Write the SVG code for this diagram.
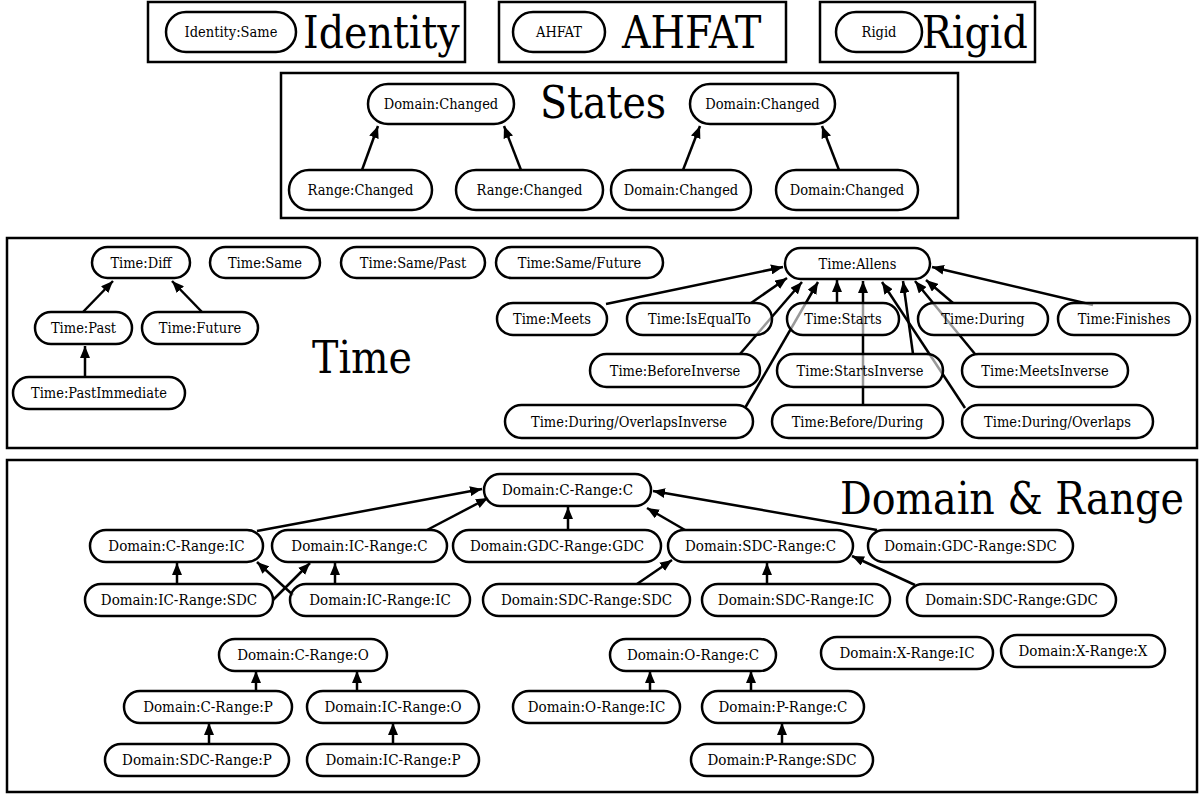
<svg xmlns="http://www.w3.org/2000/svg" width="1204" height="797" viewBox="0 0 1204 797">
<style>
.frame{fill:none;stroke:#000;stroke-width:2.5}
.node rect{fill:#fff;fill-opacity:.6;stroke:#000;stroke-width:2.5}
text{font-family:'DejaVu Serif Condensed','DejaVu Serif',serif;font-stretch:condensed;fill:#000}
.node text{font-size:14.5px;text-anchor:middle;dominant-baseline:central}
.dn text{font-size:15px}
.sm text{font-size:14.5px}
.title{font-size:44px}
.edge line{stroke:#000;stroke-width:2.5;marker-end:url(#arr)}
</style>
<defs>
<marker id="arr" markerUnits="userSpaceOnUse" markerWidth="12" markerHeight="10" refX="12" refY="5" orient="auto">
<path d="M0,0 L12,5 L0,10 z" fill="#000"/>
</marker>
</defs>
<rect width="1204" height="797" fill="#fff"/>
<g id="frames">
<rect class="frame" x="148" y="2" width="317" height="60"/>
<rect class="frame" x="499" y="2" width="287" height="60"/>
<rect class="frame" x="820" y="2" width="215" height="60"/>
<rect class="frame" x="281" y="73" width="677" height="145"/>
<rect class="frame" x="7" y="238" width="1190" height="210"/>
<rect class="frame" x="7" y="460" width="1190" height="332"/>
</g>
<g id="titles">
<text class="title" x="303" y="48">Identity</text>
<text class="title" x="622" y="48">AHFAT</text>
<text class="title" x="922" y="48">Rigid</text>
<text class="title" x="603" y="118" text-anchor="middle">States</text>
<text class="title" x="362" y="373" text-anchor="middle">Time</text>
<text class="title" x="840" y="514">Domain &amp; Range</text>
</g>
<g id="connectors" class="edge">
<line x1="362" y1="170" x2="378" y2="126"/>
<line x1="521" y1="170" x2="504" y2="126"/>
<line x1="683" y1="170" x2="700" y2="126"/>
<line x1="839" y1="170" x2="822" y2="126"/>
<line x1="83" y1="312" x2="113" y2="281"/>
<line x1="202" y1="312" x2="172" y2="281"/>
<line x1="85" y1="377" x2="85" y2="346"/>
<line x1="606" y1="304" x2="783" y2="267"/>
<line x1="751" y1="303" x2="787" y2="278"/>
<line x1="740" y1="354" x2="802" y2="282"/>
<line x1="745" y1="408" x2="818" y2="282"/>
<line x1="837" y1="303" x2="837" y2="280"/>
<line x1="863" y1="405" x2="863" y2="281"/>
<line x1="965" y1="408" x2="882" y2="282"/>
<line x1="913" y1="354" x2="903" y2="281"/>
<line x1="975" y1="354" x2="915" y2="281"/>
<line x1="953" y1="303" x2="926" y2="280"/>
<line x1="1093" y1="305" x2="932" y2="267"/>
<line x1="257" y1="531" x2="482" y2="489"/>
<line x1="427" y1="530" x2="488" y2="498"/>
<line x1="568" y1="530" x2="568" y2="507"/>
<line x1="685" y1="530" x2="647" y2="508"/>
<line x1="877" y1="530" x2="653" y2="491"/>
<line x1="177" y1="584" x2="177" y2="563"/>
<line x1="335" y1="584" x2="335" y2="563"/>
<line x1="273" y1="600" x2="310" y2="563"/>
<line x1="293" y1="595" x2="257" y2="562"/>
<line x1="637" y1="584" x2="672" y2="560"/>
<line x1="767" y1="584" x2="767" y2="563"/>
<line x1="915" y1="585" x2="852" y2="556"/>
<line x1="256" y1="690" x2="256" y2="671"/>
<line x1="357" y1="690" x2="357" y2="671"/>
<line x1="209" y1="743" x2="209" y2="723"/>
<line x1="393" y1="743" x2="393" y2="723"/>
<line x1="650" y1="690" x2="650" y2="671"/>
<line x1="751" y1="690" x2="751" y2="671"/>
<line x1="782" y1="743" x2="782" y2="723"/>
</g>
<g class="node sm" id="n-identity-same"><rect x="166" y="12" width="130" height="40" rx="20"/><text x="231" y="32">Identity:Same</text></g>
<g class="node sm" id="n-ahfat"><rect x="513" y="12" width="92" height="40" rx="20"/><text x="559" y="32">AHFAT</text></g>
<g class="node sm" id="n-rigid"><rect x="836" y="12" width="86" height="40" rx="20"/><text x="879" y="32">Rigid</text></g>
<g class="node" id="s-dc1"><rect x="368" y="84" width="146" height="40" rx="20"/><text x="441" y="104">Domain:Changed</text></g>
<g class="node" id="s-dc2"><rect x="690" y="84" width="145" height="40" rx="20"/><text x="762.5" y="104">Domain:Changed</text></g>
<g class="node" id="s-rc1"><rect x="289" y="170" width="143" height="40" rx="20"/><text x="360.5" y="190">Range:Changed</text></g>
<g class="node" id="s-rc2"><rect x="456" y="170" width="147" height="40" rx="20"/><text x="529.5" y="190">Range:Changed</text></g>
<g class="node" id="s-dc3"><rect x="611" y="170" width="140" height="40" rx="20"/><text x="681" y="190">Domain:Changed</text></g>
<g class="node" id="s-dc4"><rect x="776" y="170" width="142" height="40" rx="20"/><text x="847" y="190">Domain:Changed</text></g>
<g class="node" id="t-diff"><rect x="92" y="247" width="98" height="31" rx="15.5"/><text x="141" y="262.5">Time:Diff</text></g>
<g class="node" id="t-same"><rect x="210" y="247" width="110" height="31" rx="15.5"/><text x="265" y="262.5">Time:Same</text></g>
<g class="node" id="t-samepast"><rect x="341" y="247" width="144" height="31" rx="15.5"/><text x="413" y="262.5">Time:Same/Past</text></g>
<g class="node" id="t-samefuture"><rect x="496" y="247" width="167" height="31" rx="15.5"/><text x="579.5" y="262.5">Time:Same/Future</text></g>
<g class="node" id="t-allens"><rect x="785" y="248" width="145" height="31" rx="15.5"/><text x="857.5" y="263.5">Time:Allens</text></g>
<g class="node" id="t-past"><rect x="35" y="312" width="97" height="32" rx="16"/><text x="83.5" y="328">Time:Past</text></g>
<g class="node" id="t-future"><rect x="142" y="312" width="116" height="32" rx="16"/><text x="200" y="328">Time:Future</text></g>
<g class="node" id="t-pastimmediate"><rect x="13" y="377" width="172" height="32" rx="16"/><text x="99" y="393">Time:PastImmediate</text></g>
<g class="node" id="t-meets"><rect x="497" y="303" width="110" height="32" rx="16"/><text x="552" y="319">Time:Meets</text></g>
<g class="node" id="t-isequalto"><rect x="627" y="303" width="145" height="32" rx="16"/><text x="699.5" y="319">Time:IsEqualTo</text></g>
<g class="node" id="t-starts"><rect x="787" y="303" width="112" height="32" rx="16"/><text x="843" y="319">Time:Starts</text></g>
<g class="node" id="t-during"><rect x="918" y="303" width="130" height="32" rx="16"/><text x="983" y="319">Time:During</text></g>
<g class="node" id="t-finishes"><rect x="1058" y="303" width="132" height="32" rx="16"/><text x="1124" y="319">Time:Finishes</text></g>
<g class="node" id="t-beforeinverse"><rect x="590" y="354" width="170" height="33" rx="16.5"/><text x="675" y="370.5">Time:BeforeInverse</text></g>
<g class="node" id="t-startsinverse"><rect x="777" y="354" width="166" height="33" rx="16.5"/><text x="860" y="370.5">Time:StartsInverse</text></g>
<g class="node" id="t-meetsinverse"><rect x="962" y="354" width="166" height="33" rx="16.5"/><text x="1045" y="370.5">Time:MeetsInverse</text></g>
<g class="node" id="t-during-overlapsinverse"><rect x="505" y="405" width="248" height="33" rx="16.5"/><text x="629" y="421.5">Time:During/OverlapsInverse</text></g>
<g class="node" id="t-before-during"><rect x="772" y="405" width="171" height="33" rx="16.5"/><text x="857.5" y="421.5">Time:Before/During</text></g>
<g class="node" id="t-during-overlaps"><rect x="962" y="405" width="191" height="33" rx="16.5"/><text x="1057.5" y="421.5">Time:During/Overlaps</text></g>
<g class="node dn" id="d-c-c"><rect x="484" y="474" width="167" height="32" rx="16"/><text x="567.5" y="490">Domain:C-Range:C</text></g>
<g class="node dn" id="d-c-ic"><rect x="90" y="530" width="173" height="32" rx="16"/><text x="176.5" y="546">Domain:C-Range:IC</text></g>
<g class="node dn" id="d-ic-c"><rect x="272" y="530" width="175" height="32" rx="16"/><text x="359.5" y="546">Domain:IC-Range:C</text></g>
<g class="node dn" id="d-gdc-gdc"><rect x="453" y="530" width="208" height="32" rx="16"/><text x="557" y="546">Domain:GDC-Range:GDC</text></g>
<g class="node dn" id="d-sdc-c"><rect x="668" y="530" width="185" height="32" rx="16"/><text x="760.5" y="546">Domain:SDC-Range:C</text></g>
<g class="node dn" id="d-gdc-sdc"><rect x="868" y="530" width="205" height="32" rx="16"/><text x="970.5" y="546">Domain:GDC-Range:SDC</text></g>
<g class="node dn" id="d-ic-sdc"><rect x="85" y="584" width="188" height="32" rx="16"/><text x="179" y="600">Domain:IC-Range:SDC</text></g>
<g class="node dn" id="d-ic-ic"><rect x="290" y="584" width="180" height="32" rx="16"/><text x="380" y="600">Domain:IC-Range:IC</text></g>
<g class="node dn" id="d-sdc-sdc"><rect x="483" y="584" width="207" height="32" rx="16"/><text x="586.5" y="600">Domain:SDC-Range:SDC</text></g>
<g class="node dn" id="d-sdc-ic"><rect x="702" y="584" width="188" height="32" rx="16"/><text x="796" y="600">Domain:SDC-Range:IC</text></g>
<g class="node dn" id="d-sdc-gdc"><rect x="907" y="584" width="209" height="32" rx="16"/><text x="1011.5" y="600">Domain:SDC-Range:GDC</text></g>
<g class="node dn" id="d-c-o"><rect x="219" y="639" width="168" height="32" rx="16"/><text x="303" y="655">Domain:C-Range:O</text></g>
<g class="node dn" id="d-c-p"><rect x="124" y="691" width="168" height="32" rx="16"/><text x="208" y="707">Domain:C-Range:P</text></g>
<g class="node dn" id="d-ic-o"><rect x="307" y="691" width="172" height="32" rx="16"/><text x="393" y="707">Domain:IC-Range:O</text></g>
<g class="node dn" id="d-sdc-p"><rect x="105" y="744" width="184" height="32" rx="16"/><text x="197" y="760">Domain:SDC-Range:P</text></g>
<g class="node dn" id="d-ic-p"><rect x="307" y="744" width="172" height="32" rx="16"/><text x="393" y="760">Domain:IC-Range:P</text></g>
<g class="node dn" id="d-o-c"><rect x="610" y="639" width="166" height="32" rx="16"/><text x="693" y="655">Domain:O-Range:C</text></g>
<g class="node dn" id="d-o-ic"><rect x="513" y="691" width="167" height="32" rx="16"/><text x="596.5" y="707">Domain:O-Range:IC</text></g>
<g class="node dn" id="d-p-c"><rect x="702" y="691" width="162" height="32" rx="16"/><text x="783" y="707">Domain:P-Range:C</text></g>
<g class="node dn" id="d-p-sdc"><rect x="691" y="744" width="182" height="32" rx="16"/><text x="782" y="760">Domain:P-Range:SDC</text></g>
<g class="node dn" id="d-x-ic"><rect x="821" y="637" width="172" height="32" rx="16"/><text x="907" y="653">Domain:X-Range:IC</text></g>
<g class="node dn" id="d-x-x"><rect x="1001" y="635" width="164" height="32" rx="16"/><text x="1083" y="651">Domain:X-Range:X</text></g>
</svg>
